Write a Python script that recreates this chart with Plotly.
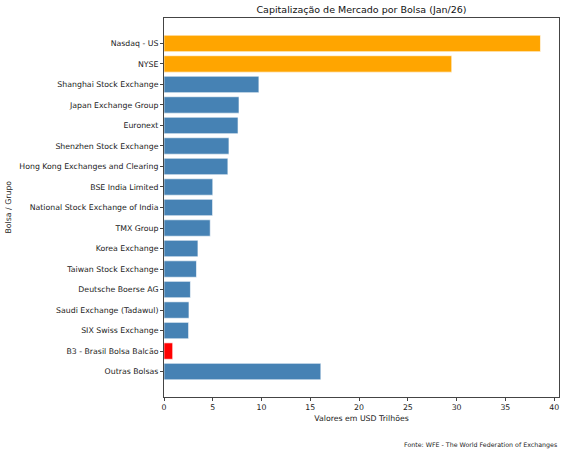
import plotly.graph_objects as go

bolsas = [
    'Nasdaq - US', 'NYSE', 'Shanghai Stock Exchange', 'Japan Exchange Group',
    'Euronext', 'Shenzhen Stock Exchange', 'Hong Kong Exchanges and Clearing',
    'BSE India Limited', 'National Stock Exchange of India', 'TMX Group',
    'Korea Exchange', 'Taiwan Stock Exchange', 'Deutsche Boerse AG',
    'Saudi Exchange (Tadawul)', 'SIX Swiss Exchange', 'B3 - Brasil Bolsa Balcão',
    'Outras Bolsas',
]
valores = [38.6, 29.5, 9.73, 7.69, 7.59, 6.66, 6.55, 5.0, 4.98, 4.74,
           3.48, 3.33, 2.71, 2.56, 2.52, 0.89, 16.08]
cores = ['orange', 'orange'] + ['steelblue'] * 13 + ['red', 'steelblue']

xticks = [0, 5, 10, 15, 20, 25, 30, 35, 40]

font = 'DejaVu Sans'
axis_color = '#444444'

fig = go.Figure()
fig.add_trace(go.Bar(
    x=valores,
    y=bolsas,
    orientation='h',
    marker=dict(color=cores, line=dict(color='white', width=0.6)),
))

n = len(bolsas)
fig.update_layout(
    width=566, height=455,
    margin=dict(l=164, r=7, t=18, b=58, autoexpand=False),
    plot_bgcolor='white', paper_bgcolor='white',
    bargap=0.2,
    showlegend=False,
    font=dict(family=font, size=7.8, color='#222222'),
    title=dict(text='Capitalização de Mercado por Bolsa (Jan/26)',
               x=(164 + 559) / 2 / 566, xanchor='center',
               y=1 - 10 / 455, yanchor='middle',
               font=dict(size=9.5, color='#111111')),
)
fig.update_xaxes(
    range=[0, 40.5], tickvals=xticks, showgrid=False, zeroline=False,
    showline=True, linecolor=axis_color, linewidth=1, mirror=True,
    ticks='outside', ticklen=3, tickcolor=axis_color, automargin=False,
    title=dict(text='Valores em USD Trilhões', standoff=4, font=dict(size=7.8)),
)
fig.update_yaxes(
    categoryorder='array', categoryarray=bolsas,
    range=[n - 1 + 1.24, -1.24], showgrid=False, zeroline=False,
    showline=True, linecolor=axis_color, linewidth=1, mirror=True,
    ticks='outside', ticklen=3, tickcolor=axis_color, automargin=False,
)
fig.add_annotation(
    text='Bolsa / Grupo', textangle=-90,
    xref='paper', yref='paper', x=-156 / 395, y=0.5,
    xanchor='center', yanchor='middle', showarrow=False,
    font=dict(size=7.8),
)
fig.add_annotation(
    text='Fonte: WFE - The World Federation of Exchanges',
    xref='paper', yref='paper', x=1, y=-48 / 379,
    xanchor='right', yanchor='middle', showarrow=False,
    font=dict(size=6.3),
)

# page has a default 8px body margin, drop it so the figure fits the window
fig.write_html('out.html', config={'displayModeBar': False},
               post_script="document.body.style.margin='0';")
